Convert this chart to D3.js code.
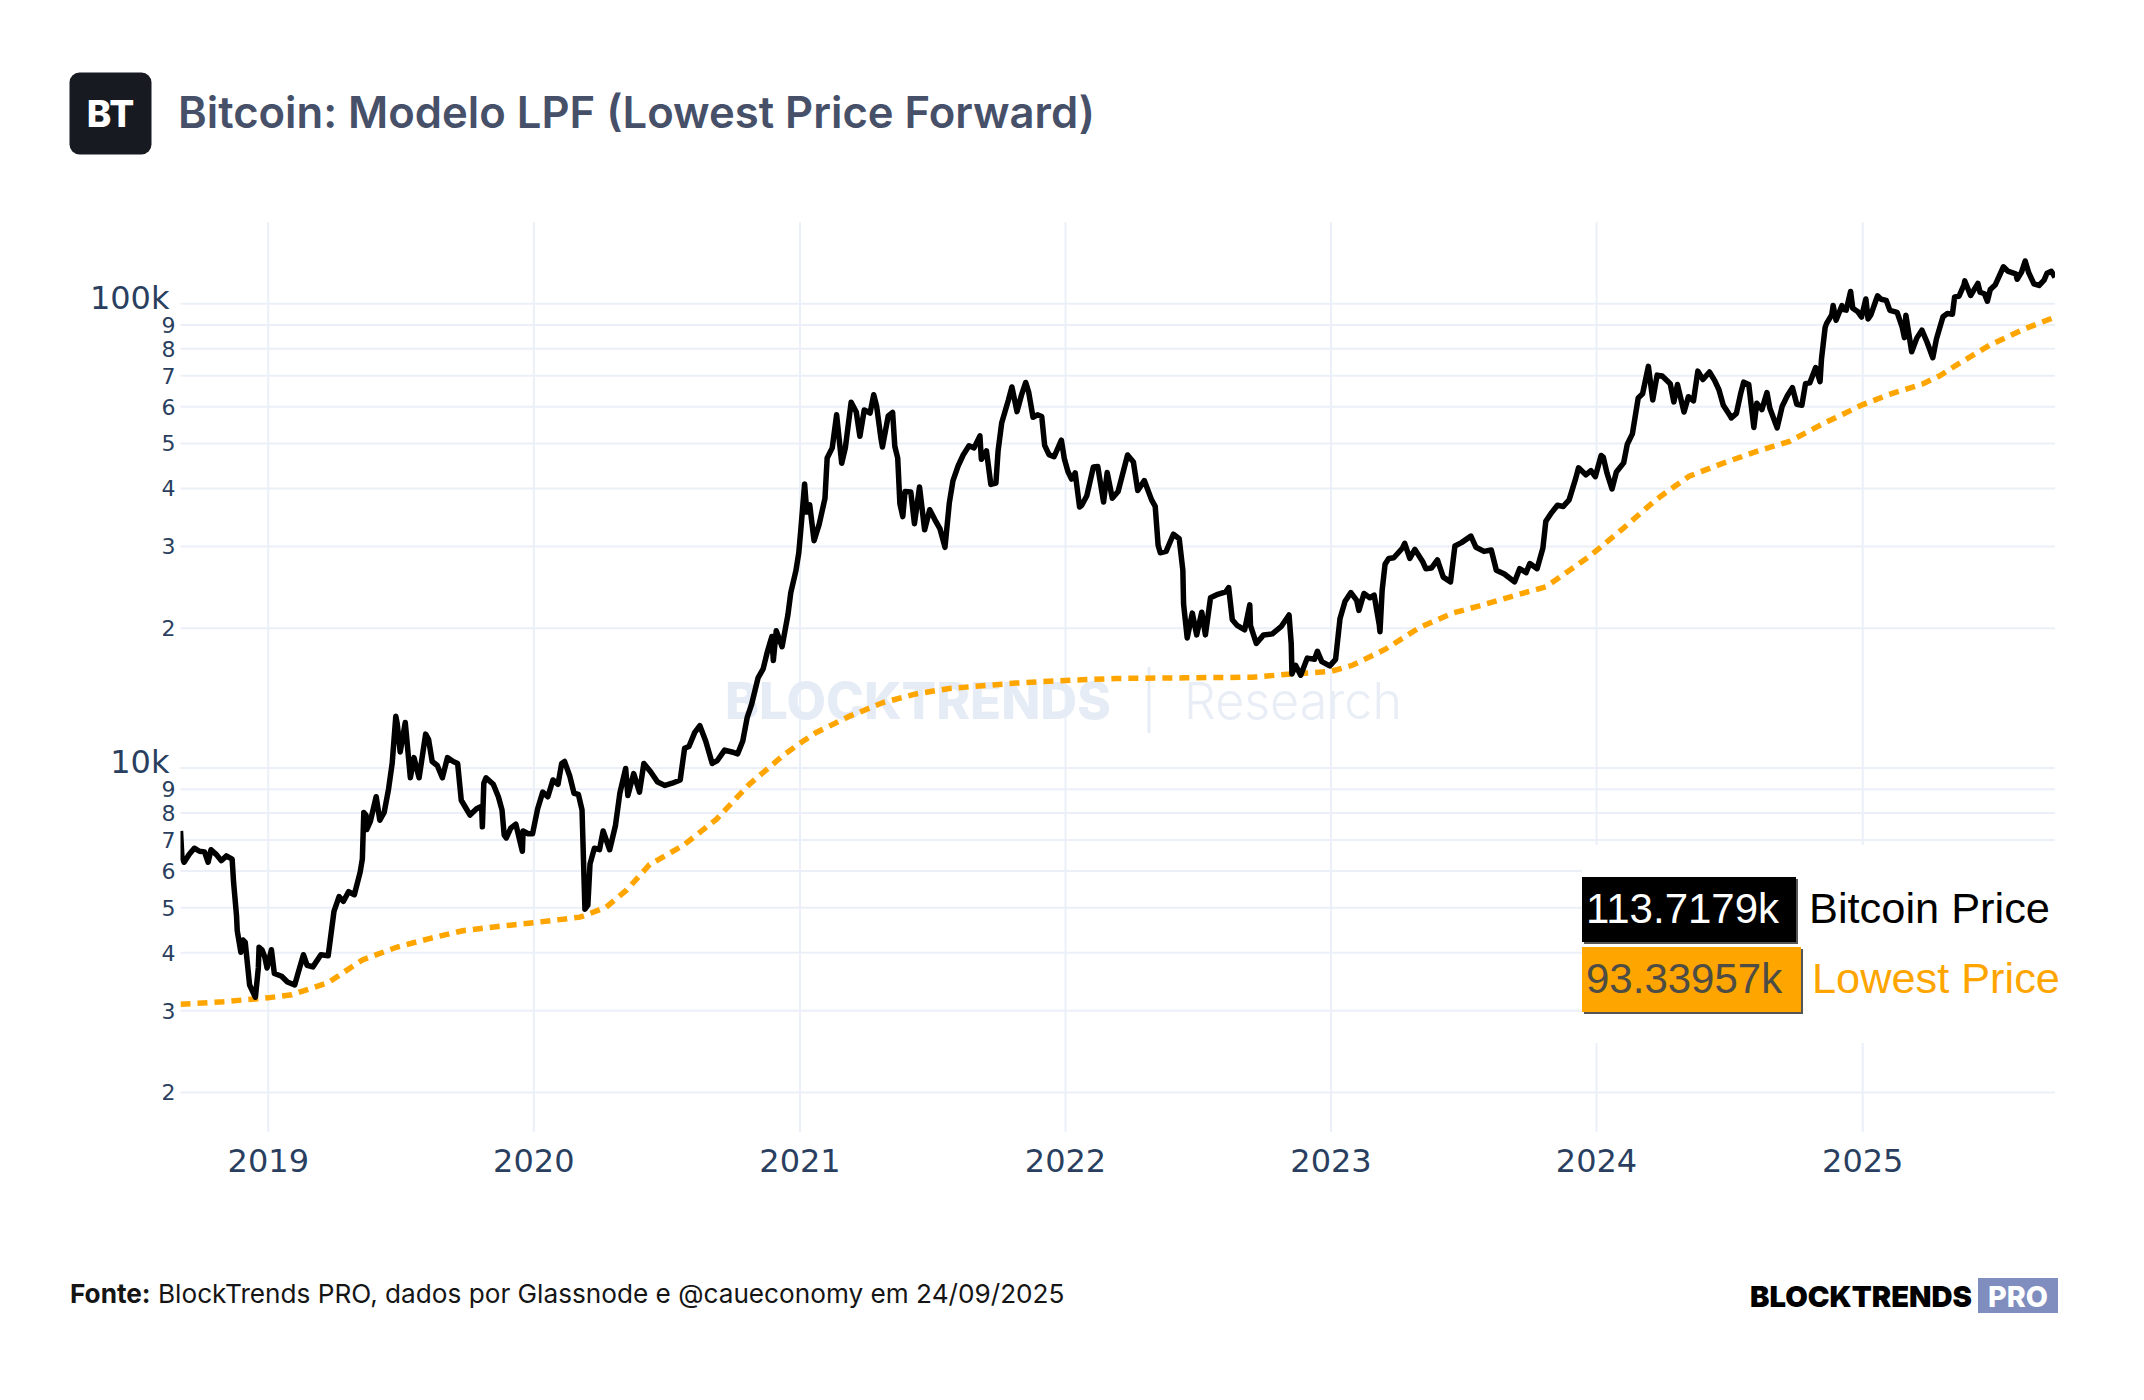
<!DOCTYPE html>
<html>
<head>
<meta charset="utf-8">
<script src="https://cdn.jsdelivr.net/npm/d3@7"></script>
<style>
  html, body { margin: 0; padding: 0; background: #fff; }
  svg { display: block; }
</style>
</head>
<body>
<svg id="chart" width="2144" height="1400"></svg>
<script>
// Bitcoin price (USD)
const btcSeries = [
  ['2018-09-03', 7300], ['2018-09-05', 6400], ['2018-09-08', 6250], ['2018-09-15', 6500], ['2018-09-22', 6700], ['2018-09-29', 6600],
  ['2018-10-06', 6580], ['2018-10-11', 6250], ['2018-10-15', 6650], ['2018-10-22', 6500], ['2018-10-29', 6300],
  ['2018-11-05', 6450], ['2018-11-13', 6350], ['2018-11-15', 5650], ['2018-11-19', 4800], ['2018-11-20', 4450],
  ['2018-11-25', 4000], ['2018-11-28', 4250], ['2018-12-01', 4200], ['2018-12-07', 3400], ['2018-12-15', 3200],
  ['2018-12-19', 3700], ['2018-12-20', 4100], ['2018-12-24', 4050], ['2018-12-28', 3900], ['2018-12-31', 3700],
  ['2019-01-06', 4050], ['2019-01-10', 3600], ['2019-01-20', 3550], ['2019-01-28', 3450], ['2019-02-07', 3400],
  ['2019-02-12', 3620], ['2019-02-19', 3950], ['2019-02-24', 3750], ['2019-03-04', 3720], ['2019-03-15', 3950],
  ['2019-03-25', 3930], ['2019-04-02', 4900], ['2019-04-09', 5270], ['2019-04-15', 5150], ['2019-04-22', 5400],
  ['2019-04-30', 5320], ['2019-05-08', 5950], ['2019-05-11', 6350], ['2019-05-13', 8000], ['2019-05-16', 7900],
  ['2019-05-17', 7350], ['2019-05-22', 7650], ['2019-05-30', 8650], ['2019-06-04', 7700], ['2019-06-10', 8000],
  ['2019-06-16', 8980], ['2019-06-21', 10200], ['2019-06-26', 12900], ['2019-06-28', 12400], ['2019-07-02', 10800],
  ['2019-07-09', 12500], ['2019-07-16', 9500], ['2019-07-21', 10500], ['2019-07-28', 9500], ['2019-08-06', 11800],
  ['2019-08-10', 11500], ['2019-08-15', 10300], ['2019-08-22', 10100], ['2019-08-29', 9500], ['2019-09-05', 10500],
  ['2019-09-13', 10300], ['2019-09-19', 10200], ['2019-09-24', 8500], ['2019-10-06', 7900], ['2019-10-15', 8150],
  ['2019-10-22', 8250], ['2019-10-23', 7450], ['2019-10-25', 9250], ['2019-10-28', 9500], ['2019-11-07', 9200],
  ['2019-11-14', 8650], ['2019-11-19', 8100], ['2019-11-22', 7150], ['2019-11-25', 7050], ['2019-12-01', 7400],
  ['2019-12-08', 7550], ['2019-12-17', 6600], ['2019-12-18', 7300], ['2019-12-25', 7200], ['2019-12-31', 7200],
  ['2020-01-07', 8150], ['2020-01-14', 8850], ['2020-01-21', 8650], ['2020-01-28', 9400], ['2020-02-04', 9200],
  ['2020-02-09', 10200], ['2020-02-13', 10300], ['2020-02-20', 9600], ['2020-02-26', 8800], ['2020-03-03', 8750],
  ['2020-03-08', 8100], ['2020-03-12', 4950], ['2020-03-16', 5050], ['2020-03-19', 6200], ['2020-03-25', 6700],
  ['2020-04-01', 6650], ['2020-04-06', 7300], ['2020-04-15', 6650], ['2020-04-23', 7500], ['2020-04-29', 8800],
  ['2020-05-07', 9950], ['2020-05-10', 8700], ['2020-05-18', 9700], ['2020-05-26', 8850], ['2020-06-01', 10200],
  ['2020-06-10', 9800], ['2020-06-20', 9300], ['2020-06-30', 9150], ['2020-07-10', 9250], ['2020-07-21', 9400],
  ['2020-07-27', 11000], ['2020-08-02', 11100], ['2020-08-10', 11900], ['2020-08-17', 12300], ['2020-08-25', 11400],
  ['2020-09-03', 10200], ['2020-09-10', 10350], ['2020-09-20', 10900], ['2020-09-30', 10800], ['2020-10-08', 10700],
  ['2020-10-15', 11400], ['2020-10-21', 12800], ['2020-10-27', 13650], ['2020-11-05', 15600], ['2020-11-12', 16300],
  ['2020-11-18', 17800], ['2020-11-24', 19150], ['2020-11-26', 17000], ['2020-11-30', 19700], ['2020-12-08', 18200],
  ['2020-12-16', 21300], ['2020-12-20', 23800], ['2020-12-27', 26500], ['2020-12-31', 29000],
  ['2021-01-03', 32800], ['2021-01-08', 40800], ['2021-01-11', 35500], ['2021-01-15', 36800], ['2021-01-21', 30800],
  ['2021-01-28', 33400], ['2021-02-05', 38000], ['2021-02-08', 46400], ['2021-02-15', 48800], ['2021-02-21', 57500],
  ['2021-02-28', 45200], ['2021-03-05', 48800], ['2021-03-13', 61200], ['2021-03-20', 58300], ['2021-03-25', 51700],
  ['2021-03-31', 58900], ['2021-04-08', 58000], ['2021-04-13', 63500], ['2021-04-17', 60000], ['2021-04-23', 51100],
  ['2021-04-25', 49000], ['2021-05-03', 57200], ['2021-05-09', 58200], ['2021-05-12', 49200], ['2021-05-16', 46400],
  ['2021-05-19', 37000], ['2021-05-23', 34700], ['2021-05-26', 39300], ['2021-06-03', 39200], ['2021-06-08', 33500],
  ['2021-06-15', 40200], ['2021-06-22', 32500], ['2021-06-29', 35900], ['2021-07-06', 34200], ['2021-07-13', 32700],
  ['2021-07-20', 29800], ['2021-07-26', 37200], ['2021-07-31', 41500], ['2021-08-07', 44600], ['2021-08-14', 47100],
  ['2021-08-22', 49300], ['2021-08-29', 48800], ['2021-09-06', 51800], ['2021-09-08', 46100], ['2021-09-15', 48100],
  ['2021-09-21', 40700], ['2021-09-28', 41000], ['2021-10-01', 48100], ['2021-10-06', 55300], ['2021-10-15', 61700],
  ['2021-10-20', 66000], ['2021-10-27', 58400], ['2021-11-02', 63300], ['2021-11-08', 67500], ['2021-11-12', 64400],
  ['2021-11-18', 56800], ['2021-11-24', 57500], ['2021-11-30', 57000], ['2021-12-04', 49400], ['2021-12-10', 47200],
  ['2021-12-17', 46700], ['2021-12-27', 50700], ['2021-12-31', 46300],
  ['2022-01-05', 43400], ['2022-01-10', 41800], ['2022-01-15', 43100], ['2022-01-21', 36400], ['2022-01-24', 36700],
  ['2022-01-31', 38500], ['2022-02-09', 44400], ['2022-02-15', 44500], ['2022-02-23', 37300], ['2022-02-28', 43200],
  ['2022-03-07', 38000], ['2022-03-15', 39300], ['2022-03-28', 47100], ['2022-04-05', 45500], ['2022-04-11', 39500],
  ['2022-04-20', 41500], ['2022-04-30', 37700], ['2022-05-05', 36500], ['2022-05-09', 30100], ['2022-05-12', 29000],
  ['2022-05-20', 29200], ['2022-05-30', 31800], ['2022-06-07', 31100], ['2022-06-12', 26600], ['2022-06-13', 22500],
  ['2022-06-18', 19000], ['2022-06-25', 21500], ['2022-07-01', 19300], ['2022-07-08', 21600], ['2022-07-13', 19300],
  ['2022-07-20', 23200], ['2022-07-30', 23600], ['2022-08-10', 23900], ['2022-08-14', 24400], ['2022-08-19', 20800],
  ['2022-08-26', 20200], ['2022-09-05', 19800], ['2022-09-12', 22400], ['2022-09-13', 20200], ['2022-09-21', 18500],
  ['2022-10-01', 19300], ['2022-10-13', 19400], ['2022-10-25', 20100], ['2022-11-05', 21300], ['2022-11-08', 18500],
  ['2022-11-09', 15900], ['2022-11-14', 16600], ['2022-11-21', 15800], ['2022-11-30', 17200], ['2022-12-10', 17100],
  ['2022-12-14', 17800], ['2022-12-20', 16900], ['2022-12-31', 16550],
  ['2023-01-08', 17100], ['2023-01-14', 20900], ['2023-01-21', 22800], ['2023-01-29', 23800], ['2023-02-06', 22900],
  ['2023-02-09', 21800], ['2023-02-16', 23700], ['2023-02-24', 23200], ['2023-03-02', 23500], ['2023-03-09', 20300],
  ['2023-03-10', 19600], ['2023-03-13', 24100], ['2023-03-17', 27400], ['2023-03-22', 28200], ['2023-03-29', 28300],
  ['2023-04-10', 29700], ['2023-04-13', 30400], ['2023-04-20', 28200], ['2023-04-27', 29500], ['2023-05-08', 27700],
  ['2023-05-12', 26800], ['2023-05-20', 26900], ['2023-05-28', 28000], ['2023-06-05', 25700], ['2023-06-15', 25100],
  ['2023-06-21', 30000], ['2023-06-30', 30500], ['2023-07-13', 31500], ['2023-07-20', 29800], ['2023-07-31', 29200],
  ['2023-08-10', 29400], ['2023-08-17', 26600], ['2023-08-28', 26100], ['2023-09-11', 25100], ['2023-09-18', 26800],
  ['2023-09-27', 26300], ['2023-10-02', 27500], ['2023-10-12', 26800], ['2023-10-20', 29700], ['2023-10-24', 33900],
  ['2023-11-01', 35400], ['2023-11-09', 36700], ['2023-11-17', 36500], ['2023-11-25', 37700], ['2023-12-04', 41900],
  ['2023-12-08', 44200], ['2023-12-18', 42700], ['2023-12-25', 43600], ['2023-12-31', 42300],
  ['2024-01-08', 47000], ['2024-01-11', 46600], ['2024-01-16', 43100], ['2024-01-23', 39800], ['2024-01-29', 43300],
  ['2024-02-08', 45300], ['2024-02-13', 49700], ['2024-02-20', 52300], ['2024-02-28', 62500], ['2024-03-05', 63800],
  ['2024-03-13', 73100], ['2024-03-19', 61900], ['2024-03-25', 70000], ['2024-04-01', 69700], ['2024-04-12', 67100],
  ['2024-04-17', 61300], ['2024-04-22', 66800], ['2024-05-01', 58300], ['2024-05-07', 62900], ['2024-05-14', 61600],
  ['2024-05-20', 71400], ['2024-05-27', 68500], ['2024-06-05', 71100], ['2024-06-12', 68200], ['2024-06-18', 65100],
  ['2024-06-24', 60300], ['2024-07-04', 57000], ['2024-07-05', 56600], ['2024-07-12', 57900], ['2024-07-18', 64000],
  ['2024-07-22', 67600], ['2024-07-29', 66800], ['2024-08-05', 54000], ['2024-08-09', 60900], ['2024-08-16', 59000],
  ['2024-08-23', 64200], ['2024-08-27', 59400], ['2024-09-06', 53900], ['2024-09-13', 60000], ['2024-09-20', 63200],
  ['2024-09-27', 65800], ['2024-10-03', 60600], ['2024-10-10', 60300], ['2024-10-15', 67100], ['2024-10-21', 67400],
  ['2024-10-29', 72700], ['2024-11-04', 67800], ['2024-11-06', 75900], ['2024-11-11', 88700], ['2024-11-13', 90500],
  ['2024-11-20', 94300], ['2024-11-22', 98900], ['2024-11-26', 91900], ['2024-12-04', 98800], ['2024-12-05', 97000],
  ['2024-12-10', 96600], ['2024-12-16', 106000], ['2024-12-19', 97500], ['2024-12-26', 95800], ['2024-12-31', 93400],
  ['2025-01-06', 102100], ['2025-01-09', 92500], ['2025-01-13', 94500], ['2025-01-20', 101600], ['2025-01-22', 103700],
  ['2025-01-27', 102000], ['2025-02-03', 101400], ['2025-02-08', 96500], ['2025-02-18', 95600], ['2025-02-25', 88700],
  ['2025-02-28', 84300], ['2025-03-02', 94200], ['2025-03-10', 78600], ['2025-03-17', 84100], ['2025-03-24', 87500],
  ['2025-03-31', 82500], ['2025-04-08', 76300], ['2025-04-13', 83700], ['2025-04-22', 93500], ['2025-04-28', 95000],
  ['2025-05-05', 94700], ['2025-05-08', 103200], ['2025-05-14', 103500], ['2025-05-21', 109700], ['2025-05-22', 111700],
  ['2025-05-30', 103900], ['2025-06-09', 110300], ['2025-06-12', 105600], ['2025-06-18', 104800], ['2025-06-22', 101000],
  ['2025-06-26', 107000], ['2025-07-03', 109600], ['2025-07-10', 116000], ['2025-07-14', 119800], ['2025-07-20', 117300],
  ['2025-07-31', 115700], ['2025-08-02', 112600], ['2025-08-08', 116700], ['2025-08-13', 123300], ['2025-08-18', 116200],
  ['2025-08-25', 110100], ['2025-09-01', 109200], ['2025-09-08', 112100], ['2025-09-12', 116000], ['2025-09-18', 117100],
  ['2025-09-23', 113718]
];

// Lowest Price Forward model (USD)
const lpfSeries = [
  ['2018-09-03', 3090], ['2018-11-01', 3130], ['2019-01-01', 3190], ['2019-02-03', 3240], ['2019-03-25', 3440],
  ['2019-05-11', 3850], ['2019-06-27', 4100], ['2019-08-11', 4280], ['2019-09-26', 4450], ['2019-11-11', 4540],
  ['2020-01-01', 4630], ['2020-03-05', 4760], ['2020-03-12', 4800], ['2020-04-10', 5000], ['2020-05-08', 5440],
  ['2020-06-09', 6180], ['2020-07-25', 6790], ['2020-09-09', 7740], ['2020-10-24', 9200], ['2020-12-09', 10600],
  ['2021-01-01', 11260], ['2021-01-24', 11900], ['2021-03-11', 12900], ['2021-04-26', 13800], ['2021-06-10', 14400],
  ['2021-07-26', 14800], ['2021-09-10', 15000], ['2021-10-26', 15200], ['2022-01-01', 15400], ['2022-03-12', 15550],
  ['2022-06-16', 15600], ['2022-09-16', 15650], ['2022-11-08', 15900], ['2023-01-01', 16100], ['2023-01-31', 16600],
  ['2023-03-18', 18000], ['2023-05-03', 20000], ['2023-06-18', 21500], ['2023-08-03', 22500], ['2023-09-17', 23600],
  ['2023-10-24', 24500], ['2023-12-23', 28500], ['2024-02-07', 32700], ['2024-03-24', 37800], ['2024-05-08', 42400],
  ['2024-06-23', 45200], ['2024-08-08', 47900], ['2024-09-23', 50400], ['2024-11-08', 55000], ['2025-01-01', 60400],
  ['2025-02-07', 63600], ['2025-03-25', 67000], ['2025-04-17', 69700], ['2025-05-10', 73500], ['2025-06-25', 81200],
  ['2025-08-10', 87800], ['2025-09-23', 93340]
];

const yearTicks = ['2019', '2020', '2021', '2022', '2023', '2024', '2025'];
const priceTicks = [2000, 3000, 4000, 5000, 6000, 7000, 8000, 9000,
  10000, 20000, 30000, 40000, 50000, 60000, 70000, 80000, 90000, 100000];
const seriesNames = ['Bitcoin Price', 'Lowest Price'];
const lastValues = ['113.7179k', '93.33957k'];

const titleText = 'Bitcoin: Modelo LPF (Lowest Price Forward)';
const sourceLabel = 'Fonte:';
const sourceText = ' BlockTrends PRO, dados por Glassnode e @caueconomy em 24/09/2025';

// Layout
const plot = { left: 180.5, right: 2055, top: 222, bottom: 1132 };
const parseDate = d3.utcParse('%Y-%m-%d');

const svg = d3.select('#chart');

// Helper: scale font size so the text spans a given width
const fitWidth = (sel, target) => {
  const w = sel.node().getComputedTextLength();
  const fs = parseFloat(sel.attr('font-size'));
  if (w > 0) sel.attr('font-size', fs * target / w);
};

// Scales
const x = d3.scaleUtc()
  .domain([parseDate(btcSeries[0][0]), parseDate(btcSeries[btcSeries.length - 1][0])])
  .range([plot.left, plot.right]);

const y = d3.scaleLog()
  .domain([1640, 149600])
  .range([plot.bottom, plot.top]);

const yearDates = yearTicks.map(t => parseDate(t + '-01-01'));

// Grid lines
svg.append('g')
  .attr('transform', `translate(0,${plot.bottom})`)
  .call(d3.axisBottom(x).tickValues(yearDates).tickSize(-(plot.bottom - plot.top)).tickFormat(''))
  .call(g => g.select('.domain').remove())
  .selectAll('line')
  .attr('stroke', '#ebf0f8')
  .attr('stroke-width', 2);

svg.append('g')
  .attr('transform', `translate(${plot.left},0)`)
  .call(d3.axisLeft(y).tickValues(priceTicks).tickSize(-(plot.right - plot.left)).tickFormat(''))
  .call(g => g.select('.domain').remove())
  .selectAll('line')
  .attr('stroke', '#ebf0f8')
  .attr('stroke-width', 2);

// Watermark
const wm = svg.append('g');
const wm1 = wm.append('text')
  .attr('x', 725).attr('y', 719)
  .attr('font-family', 'Inter, sans-serif').attr('font-weight', 800)
  .attr('font-size', 50).attr('fill', '#e6ecf5')
  .text('BLOCKTRENDS');
fitWidth(wm1, 386);
wm.append('line')
  .attr('x1', 1149).attr('x2', 1149).attr('y1', 667).attr('y2', 733)
  .attr('stroke', '#e6ecf5').attr('stroke-width', 3);
const wm2 = wm.append('text')
  .attr('x', 1184).attr('y', 719)
  .attr('font-family', 'Inter, sans-serif').attr('font-weight', 300)
  .attr('font-size', 50).attr('fill', '#e8edf6')
  .text('Research');
fitWidth(wm2, 218);

// Axis labels
const xLabels = svg.append('g')
  .attr('transform', `translate(0,${plot.bottom})`)
  .call(d3.axisBottom(x).tickValues(yearDates).tickSize(0).tickPadding(0).tickFormat(d3.utcFormat('%Y')));
xLabels.select('.domain').remove();
xLabels.selectAll('text')
  .attr('y', 39.5)
  .attr('dy', null)
  .attr('font-family', '"DejaVu Sans", Verdana, sans-serif')
  .attr('font-size', 32)
  .attr('fill', '#2a3f5f');

const isPower = v => Math.abs(Math.log10(v) % 1) < 1e-9;
const yLabels = svg.append('g')
  .attr('transform', `translate(${plot.left},0)`)
  .call(d3.axisLeft(y).tickValues(priceTicks).tickSize(0).tickPadding(5)
    .tickFormat(v => isPower(v) ? d3.format('~s')(v) : String(v / Math.pow(10, Math.floor(Math.log10(v))))));
yLabels.select('.domain').remove();
yLabels.selectAll('text')
  .attr('font-family', '"DejaVu Sans", Verdana, sans-serif')
  .attr('fill', '#2a3f5f')
  .attr('font-size', v => isPower(v) ? 32 : 22)
  .attr('x', v => isPower(v) ? -11 : -5)
  .attr('dy', v => isPower(v) ? '0.15em' : '0.36em');

// Lines
svg.append('defs').append('clipPath').attr('id', 'plotClip')
  .append('rect')
  .attr('x', plot.left).attr('y', plot.top - 10)
  .attr('width', plot.right - plot.left).attr('height', plot.bottom - plot.top + 10);

const line = d3.line()
  .x(d => x(parseDate(d[0])))
  .y(d => y(d[1]));

const lines = svg.append('g').attr('clip-path', 'url(#plotClip)');

lines.append('path')
  .datum(lpfSeries)
  .attr('d', line)
  .attr('fill', 'none')
  .attr('stroke', '#ffa500')
  .attr('stroke-width', 5.5)
  .attr('stroke-dasharray', '10,7');

lines.append('path')
  .datum(btcSeries)
  .attr('d', line)
  .attr('fill', 'none')
  .attr('stroke', '#000')
  .attr('stroke-width', 5.5)
  .attr('stroke-linejoin', 'round');

// Legend with last values
const legend = svg.append('g');
legend.append('rect')
  .attr('x', 1582).attr('y', 845).attr('width', 480).attr('height', 198)
  .attr('fill', '#fff');

const boxColors = ['#000', '#ffa500'];
const valueColors = ['#fff', '#4d4d45'];
const nameColors = ['#000', '#ffa500'];
const boxW = [214, 219];
seriesNames.forEach((name, i) => {
  const top = 877 + i * 70;
  legend.append('rect')
    .attr('x', 1584).attr('y', top + 2).attr('width', boxW[i]).attr('height', 65)
    .attr('fill', '#555');
  legend.append('rect')
    .attr('x', 1582).attr('y', top).attr('width', boxW[i]).attr('height', 65)
    .attr('fill', boxColors[i]);
  legend.append('text')
    .attr('x', 1586).attr('y', top + 46)
    .attr('font-family', '"Liberation Sans", Arial, sans-serif')
    .attr('font-size', 42)
    .attr('fill', valueColors[i])
    .text(lastValues[i]);
  const label = legend.append('text')
    .attr('x', 1809 + i * 3).attr('y', top + 46)
    .attr('font-family', '"Liberation Sans", Arial, sans-serif')
    .attr('font-size', 43)
    .attr('fill', nameColors[i])
    .text(name);
  fitWidth(label, 241 + i * 7);
});

// Header
svg.append('rect')
  .attr('x', 69.5).attr('y', 72.5).attr('width', 82).attr('height', 82).attr('rx', 10)
  .attr('fill', '#171a21');
svg.append('text')
  .attr('x', 110.5).attr('y', 126.5)
  .attr('text-anchor', 'middle')
  .attr('font-family', 'Inter, sans-serif').attr('font-weight', 800)
  .attr('font-size', 37).attr('fill', '#fff')
  .text('BT');
const title = svg.append('text')
  .attr('x', 178).attr('y', 128)
  .attr('font-family', 'Inter, sans-serif').attr('font-weight', 600)
  .attr('font-size', 44).attr('fill', '#475069')
  .text(titleText);
fitWidth(title, 917);

// Footer
const source = svg.append('text')
  .attr('x', 70).attr('y', 1303)
  .attr('font-family', 'Inter, sans-serif')
  .attr('font-size', 25).attr('fill', '#151515');
source.append('tspan').attr('font-weight', 700).text(sourceLabel);
source.append('tspan').attr('font-weight', 400).text(sourceText);
fitWidth(source, 995);

const brand = svg.append('text')
  .attr('x', 1750).attr('y', 1307)
  .attr('font-family', 'Inter, sans-serif').attr('font-weight', 900)
  .attr('font-size', 31).attr('fill', '#000')
  .text('BLOCKTRENDS');
fitWidth(brand, 222);
svg.append('rect')
  .attr('x', 1978).attr('y', 1278).attr('width', 80).attr('height', 35)
  .attr('fill', '#7f8dbf');
const pro = svg.append('text')
  .attr('x', 2018).attr('y', 1307)
  .attr('text-anchor', 'middle')
  .attr('font-family', 'Inter, sans-serif').attr('font-weight', 800)
  .attr('font-size', 31).attr('fill', '#fff')
  .text('PRO');
fitWidth(pro, 60);
</script>
</body>
</html>
